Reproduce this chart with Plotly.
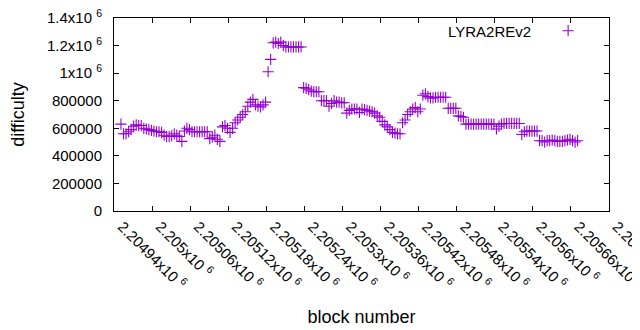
import plotly.graph_objects as go

# block numbers (every 4th block sampled)
blocks = list(range(2204951, 2205675, 4))

# difficulty values (thousands)
difficulty_k = [
    630, 560, 560, 575, 590, 615, 625, 620, 620, 600,
    595, 590, 585, 580, 575, 575, 570, 550, 540, 540,
    545, 560, 550, 540, 505, 580, 600, 590, 575, 575,
    575, 575, 575, 575, 575, 525, 535, 550, 520, 505,
    610, 620, 600, 570, 600, 640, 660, 680, 700, 720,
    760, 790, 810, 770, 760, 755, 770, 790, 1010, 1100,
    1220, 1225, 1215, 1225, 1200, 1190, 1190, 1190, 1190, 1190,
    1190, 1190, 895, 890, 880, 870, 865, 865, 865, 800,
    800, 800, 760, 780, 800, 790, 790, 785, 785, 710,
    730, 740, 740, 740, 715, 740, 735, 730, 725, 720,
    710, 690, 680, 650, 625, 610, 590, 570, 565, 560,
    560, 640, 660, 700, 720, 740, 750, 720, 740, 840,
    850, 830, 820, 820, 825, 825, 825, 825, 825, 745,
    745, 745, 745, 690, 685, 680, 630, 630, 630, 630,
    630, 630, 630, 630, 630, 630, 630, 630, 595, 615,
    630, 635, 635, 635, 635, 635, 635, 635, 555, 575,
    580, 580, 580, 580, 580, 510, 510, 500, 510, 510,
    515, 510, 505, 505, 505, 510, 515, 520, 510, 500,
    510,
]
difficulty = [v * 1000 for v in difficulty_k]
blocks = blocks[:len(difficulty)]

x_tickvals = [2204940 + 60 * i for i in range(14)]
x_ticktext = ["2.20494", "2.205", "2.20506", "2.20512", "2.20518", "2.20524", "2.2053",
              "2.20536", "2.20542", "2.20548", "2.20554", "2.2056", "2.20566", "2.2057"]
x_ticktext = [t + "x10 <sup>6</sup>" for t in x_ticktext]

y_tickvals = [0, 200000, 400000, 600000, 800000, 1000000, 1200000, 1400000]
y_ticktext = ["0", "200000", "400000", "600000", "800000",
              "1x10 <sup>6</sup>", "1.2x10 <sup>6</sup>", "1.4x10 <sup>6</sup>"]

series_name = "LYRA2REv2"
color = "#9400D3"
font = "Arial"
fs = 15

fig = go.Figure()
fig.add_trace(go.Scatter(
    x=blocks, y=difficulty, mode="markers", name="",
    marker=dict(symbol="cross-thin", size=8, color=color,
                line=dict(color=color, width=1.1)),
    showlegend=True,
))

fig.update_layout(
    width=640, height=330,
    margin=dict(l=106, r=39, t=10, b=127, autoexpand=False),
    paper_bgcolor="white", plot_bgcolor="white",
    font=dict(family=font, size=fs, color="black"),
    showlegend=True,
    legend=dict(x=0.877, y=0.933, xanchor="left", yanchor="middle",
                bgcolor="rgba(0,0,0,0)", font=dict(size=fs)),
    annotations=[dict(text=series_name, xref="paper", yref="paper",
                      x=0.846, y=0.929, xanchor="right", yanchor="middle",
                      showarrow=False, font=dict(size=fs))],
)
fig.update_xaxes(
    range=[x_tickvals[0], x_tickvals[-1] + 0.5], tickmode="array",
    tickvals=x_tickvals, ticktext=x_ticktext,
    tickangle=45, ticks="inside", ticklen=5, tickcolor="black", tickwidth=1,
    showline=True, linecolor="black", linewidth=1, mirror="ticks",
    showgrid=False, zeroline=False, automargin=False, ticklabelshift=8,
    ticklabeloverflow="allow",
    title=dict(text="block number", standoff=18),
)
fig.update_yaxes(
    range=[y_tickvals[0], y_tickvals[-1]], tickmode="array",
    tickvals=y_tickvals, ticktext=y_ticktext,
    ticks="inside", ticklen=5, tickcolor="black", tickwidth=1,
    showline=True, linecolor="black", linewidth=1, mirror="ticks",
    showgrid=False, zeroline=False, ticklabelstandoff=8, automargin=False,
    ticklabeloverflow="allow",
    title=dict(text="difficulty", standoff=21),
)

fig.write_html("out.html")
